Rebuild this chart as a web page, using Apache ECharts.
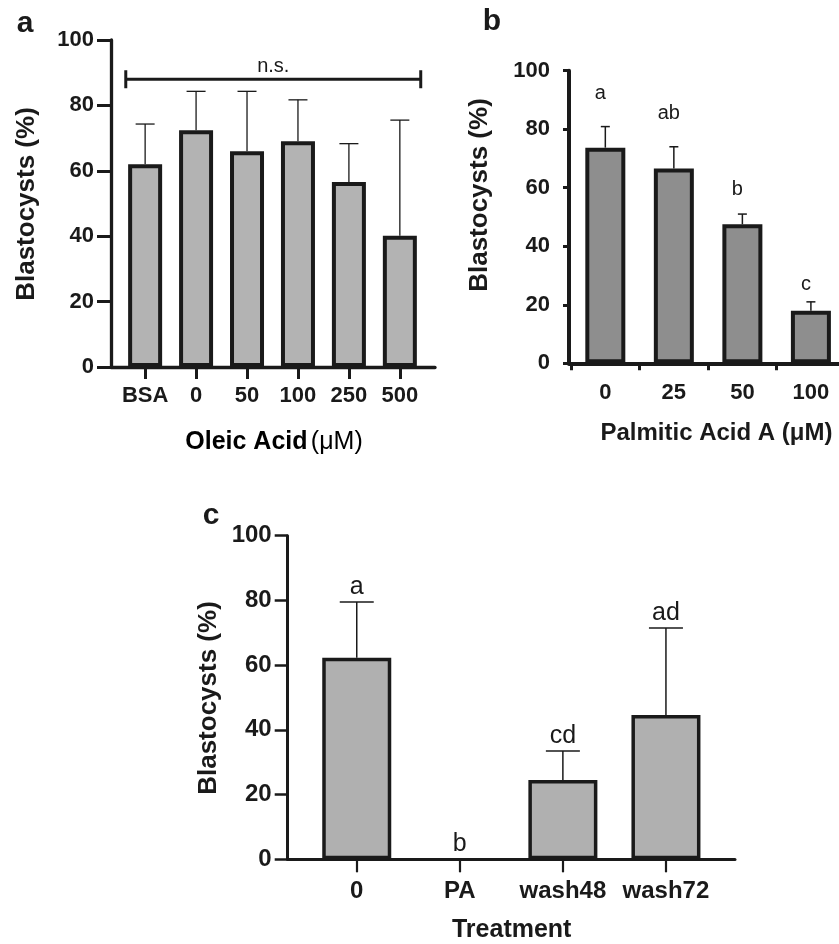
<!DOCTYPE html>
<html><head><meta charset="utf-8">
<script src="https://cdn.jsdelivr.net/npm/echarts@6/dist/echarts.min.js"></script>
<style>html,body{margin:0;padding:0;background:#fff}#c{width:839px;height:944px}</style>
</head><body><div id="c"></div>
<script>
// Panel a: Oleic acid
const catsA = ['BSA', '0', '50', '100', '250', '500'];
const meanA = [62.0, 72.4, 66.0, 69.0, 56.6, 40.1];
const errA = [12.3, 11.9, 18.3, 12.7, 11.7, 35.4];
const nsLabel = 'n.s.';
// Panel b: Palmitic acid
const catsB = ['0', '25', '50', '100'];
const meanB = [73.7, 66.6, 47.5, 18.0];
const errB = [7.2, 7.4, 3.5, 3.0];
const lettersB = ['a', 'ab', 'b', 'c'];
const letterYB = [92.3, 85.4, 59.5, 26.8];
// Panel c: Treatment
const catsC = ['0', 'PA', 'wash48', 'wash72'];
const meanC = [62.3, 0, 24.5, 44.6];
const errC = [17.2, 0, 9.0, 26.9];
const lettersC = ['a', 'b', 'cd', 'ad'];

const INK = '#1a1a1a';
const F = 'Liberation Sans, Arial, sans-serif';

function errItem(capW, lw) {
  return function (params, api) {
    const x = api.value(0), m = api.value(1), e = api.value(2);
    if (!e) return null;
    const p0 = api.coord([x, m]), p1 = api.coord([x, m + e]);
    const st = { stroke: INK, lineWidth: lw };
    return { type: 'group', children: [
      { type: 'line', shape: { x1: p0[0], y1: p0[1], x2: p1[0], y2: p1[1] }, style: st },
      { type: 'line', shape: { x1: p1[0] - capW / 2, y1: p1[1], x2: p1[0] + capW / 2, y2: p1[1] }, style: st }
    ] };
  };
}
function textItem(font, dx, dyPx) {
  return function (params, api) {
    const p = api.coord([api.value(0), api.value(1)]);
    return { type: 'text', x: p[0] + dx, y: p[1] - dyPx,
      style: { text: api.value(2), font: font, fill: INK, textAlign: 'center', textVerticalAlign: 'middle' } };
  };
}
function yAx(gi, fs, tickLen, margin, lw, tlw) {
  return { type: 'value', gridIndex: gi, min: 0, max: 100, interval: 20,
    splitLine: { show: false },
    axisLine: { show: true, onZero: false, lineStyle: { color: INK, width: lw } },
    axisTick: { show: true, length: tickLen, lineStyle: { color: INK, width: tlw } },
    axisLabel: { margin: margin, color: INK, fontFamily: F, fontWeight: 'bold', fontSize: fs } };
}
function xAx(gi, cats, min, max, tickVals, fs, tickLen, margin, lw, tlw) {
  return { type: 'value', gridIndex: gi, min: min, max: max,
    splitLine: { show: false },
    axisLine: { show: true, onZero: false, lineStyle: { color: INK, width: lw } },
    axisTick: { show: true, length: tickLen, customValues: tickVals, lineStyle: { color: INK, width: tlw } },
    axisLabel: { margin: margin, color: INK, fontFamily: F, fontWeight: 'bold', fontSize: fs,
      customValues: cats.map((c, i) => i), formatter: v => cats[Math.round(v)] } };
}
function barData(vals) {
  return vals.map((m, i) => (m === 0 ? { value: [i, m], itemStyle: { borderWidth: 0 } } : [i, m]));
}

const chart = echarts.init(document.getElementById('c'), null, { renderer: 'canvas' });
chart.setOption({
  backgroundColor: '#fff',
  animation: false,
  grid: [
    { left: 111, top: 40, width: 324, height: 327 },
    { left: 569, top: 70.7, width: 270, height: 292.6 },
    { left: 287.7, top: 535.7, width: 447.3, height: 323.6 }
  ],
  xAxis: [
    xAx(0, catsA, -0.67, 5.69, catsA.map((c, i) => i), 22, 12, 18, 3.3, 3),
    xAx(1, catsB, -0.53, 3.41, [-0.5, 0.5, 1.5, 2.5], 22, 7, 19, 4, 3),
    xAx(2, catsC, -0.67, 3.67, catsC.map((c, i) => i), 24, 13, 20, 3, 2.2)
  ],
  yAxis: [
    yAx(0, 22, 14, 17, 3.3, 3),
    yAx(1, 22, 6, 19, 4, 3),
    yAx(2, 24, 13, 16, 3, 2.5)
  ],
  series: [
    { type: 'custom', xAxisIndex: 0, yAxisIndex: 0, z: 1, renderItem: errItem(19, 1.3),
      encode: { x: 0, y: 1 }, data: meanA.map((m, i) => [i, m, errA[i]]) },
    { type: 'bar', xAxisIndex: 0, yAxisIndex: 0, z: 2, barWidth: 34,
      itemStyle: { color: '#b3b3b3', borderColor: INK, borderWidth: 4 },
      data: barData(meanA) },
    { type: 'custom', xAxisIndex: 0, yAxisIndex: 0, z: 3, encode: { x: 0, y: 2 },
      data: [[0, catsA.length - 1, 88]],
      renderItem: function (params, api) {
        const a = api.coord([api.value(0) - 0.38, api.value(2)]);
        const b = api.coord([api.value(1) + 0.41, api.value(2)]);
        const st = { stroke: INK, lineWidth: 3 };
        return { type: 'group', children: [
          { type: 'line', shape: { x1: a[0], y1: a[1], x2: b[0], y2: b[1] }, style: st },
          { type: 'line', shape: { x1: a[0], y1: a[1] - 9, x2: a[0], y2: a[1] + 9 }, style: st },
          { type: 'line', shape: { x1: b[0], y1: b[1] - 9, x2: b[0], y2: b[1] + 9 }, style: st },
          { type: 'text', x: (a[0] + b[0]) / 2, y: a[1] - 13,
            style: { text: nsLabel, font: '20px ' + F, fill: INK, textAlign: 'center', textVerticalAlign: 'middle' } }
        ] };
      } },

    { type: 'custom', xAxisIndex: 1, yAxisIndex: 1, z: 1, renderItem: errItem(9, 1.5),
      encode: { x: 0, y: 1 }, data: meanB.map((m, i) => [i, m, errB[i]]) },
    { type: 'bar', xAxisIndex: 1, yAxisIndex: 1, z: 2, barWidth: 40,
      itemStyle: { color: '#8e8e8e', borderColor: INK, borderWidth: 4 },
      data: barData(meanB) },
    { type: 'custom', xAxisIndex: 1, yAxisIndex: 1, z: 3, renderItem: textItem('20px ' + F, -5, 0),
      encode: { x: 0, y: 1 }, data: lettersB.map((t, i) => [i, letterYB[i], t]) },

    { type: 'custom', xAxisIndex: 2, yAxisIndex: 2, z: 1, renderItem: errItem(34, 1.5),
      encode: { x: 0, y: 1 }, data: meanC.map((m, i) => [i, m, errC[i]]) },
    { type: 'bar', xAxisIndex: 2, yAxisIndex: 2, z: 2, barWidth: 69,
      itemStyle: { color: '#b0b0b0', borderColor: INK, borderWidth: 3.5 },
      data: barData(meanC) },
    { type: 'custom', xAxisIndex: 2, yAxisIndex: 2, z: 3, renderItem: textItem('25px ' + F, 0, 15),
      encode: { x: 0, y: 1 }, data: lettersC.map((t, i) => [i, meanC[i] + errC[i], t]) }
  ],
  graphic: [
    { type: 'text', x: 25, y: 24, style: { text: 'a', font: 'bold 30px ' + F, fill: INK, textAlign: 'center', textVerticalAlign: 'middle' } },
    { type: 'text', x: 492, y: 22, style: { text: 'b', font: 'bold 30px ' + F, fill: INK, textAlign: 'center', textVerticalAlign: 'middle' } },
    { type: 'text', x: 211, y: 516, style: { text: 'c', font: 'bold 30px ' + F, fill: INK, textAlign: 'center', textVerticalAlign: 'middle' } },
    { type: 'text', x: 27, y: 204, rotation: Math.PI / 2, style: { text: 'Blastocysts (%)', font: 'bold 26px ' + F, fill: INK, textAlign: 'center', textVerticalAlign: 'middle' } },
    { type: 'text', x: 480, y: 195, rotation: Math.PI / 2, style: { text: 'Blastocysts (%)', font: 'bold 26px ' + F, fill: INK, textAlign: 'center', textVerticalAlign: 'middle' } },
    { type: 'text', x: 209, y: 698, rotation: Math.PI / 2, style: { text: 'Blastocysts (%)', font: 'bold 26px ' + F, fill: INK, textAlign: 'center', textVerticalAlign: 'middle' } },
    { type: 'text', x: 274, y: 442, style: { text: '{b|Oleic Acid} {n|(μM)}', textAlign: 'center', textVerticalAlign: 'middle',
      rich: { b: { fontWeight: 'bold', fontSize: 25, fontFamily: F, color: INK },
              n: { fontSize: 25, fontFamily: F, color: INK, fontWeight: 'normal' } } } },
    { type: 'text', x: 716.5, y: 433, style: { text: 'Palmitic Acid A (μM)', font: 'bold 24px ' + F, fill: INK, textAlign: 'center', textVerticalAlign: 'middle' } },
    { type: 'text', x: 511.7, y: 930, style: { text: 'Treatment', font: 'bold 25px ' + F, fill: INK, textAlign: 'center', textVerticalAlign: 'middle' } }
  ]
});
</script>
</body></html>
